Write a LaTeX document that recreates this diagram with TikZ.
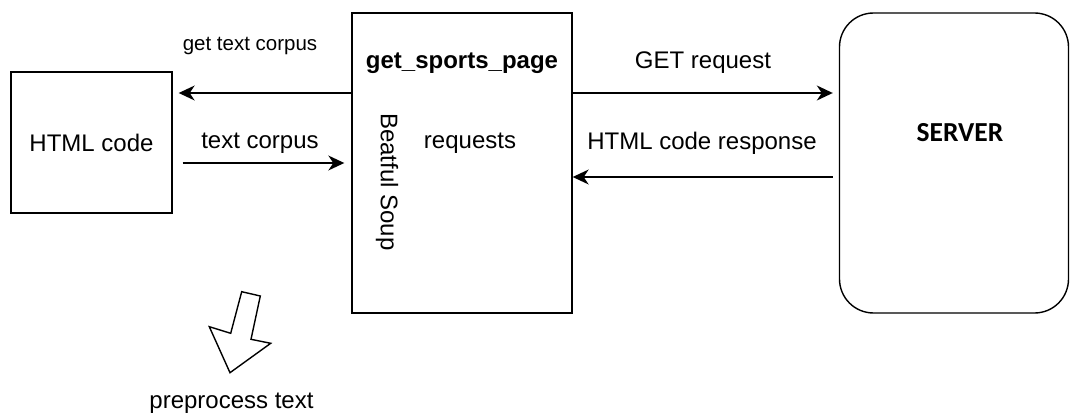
\documentclass[tikz,border=0pt]{standalone}
\usepackage{fontspec}
\setmainfont{Liberation Sans}
\newfontfamily\calibri{Carlito}
\usetikzlibrary{arrows.meta,calc}

\tikzset{
  box/.style={draw, line width=1.4pt, inner sep=0pt},
  lbl/.style={inner sep=0pt, font=\fontsize{24}{28}\selectfont},
  small/.style={inner sep=0pt, font=\fontsize{20.5}{24}\selectfont},
  arr/.style={line width=1.4pt, -{Stealth[length=16pt,width=15pt,inset=5pt]}},
}

\begin{document}
\begin{tikzpicture}[x=1pt,y=-1pt]
  \useasboundingbox (0,0) rectangle (1071,417);

  % boxes
  \node[box, minimum width=161pt, minimum height=141pt] (html) at (91.5,142.5) {};
  \node[box, minimum width=220pt, minimum height=300pt] (mid) at (462,163) {};
  \node[box, rounded corners=34pt, minimum width=229pt, minimum height=300pt] (srv) at (954,163) {};

  % box contents
  \node[lbl] (htmltxt) at (91.5,143) {HTML code};
  \node[lbl, font=\fontsize{24}{28}\selectfont\bfseries] (fname) at (462,63) {get\_sports\_page};
  \node[lbl] (req) at (470,143) {requests};
  \node[lbl, rotate=-90] (bs) at (387,182) {Beatful Soup};
  \node[inner sep=0pt, font=\calibri\fontsize{27.5}{30}\selectfont\bfseries] (srvtxt) at (960,133) {SERVER};

  % row heights of the connectors
  \coordinate (ya) at (0,93);
  \coordinate (yb) at (0,163);
  \coordinate (yc) at (0,177);

  % connectors
  \draw[arr, shorten >=6pt] (mid.west |- ya) -- (html.east |- ya);
  \draw[arr, shorten <=10pt, shorten >=7pt] (html.east |- yb) -- (mid.west |- yb);
  \draw[arr, shorten >=6pt] (mid.east |- ya) -- (srv.west |- ya);
  \draw[arr, shorten <=6pt] (srv.west |- yc) -- (mid.east |- yc);

  % connector labels
  \node[small] (l1) at (250,46) {get text corpus};
  \node[lbl] (l2) at (260,143) {text corpus};
  \node[lbl] (l3) at (703,63) {GET request};
  \node[lbl] (l4) at (702,143) {HTML code response};

  % hollow block arrow and its caption
  \draw[line width=1.4pt, line join=miter]
    (241.7,291.7) -- (260.3,296) -- (251,339.3) -- (270.7,343.3)
    -- (230,372.7) -- (209.3,326.7) -- (230.7,333.3) -- cycle;
  \node[lbl] (pp) at (231.5,403) {preprocess text};
\end{tikzpicture}
\end{document}
